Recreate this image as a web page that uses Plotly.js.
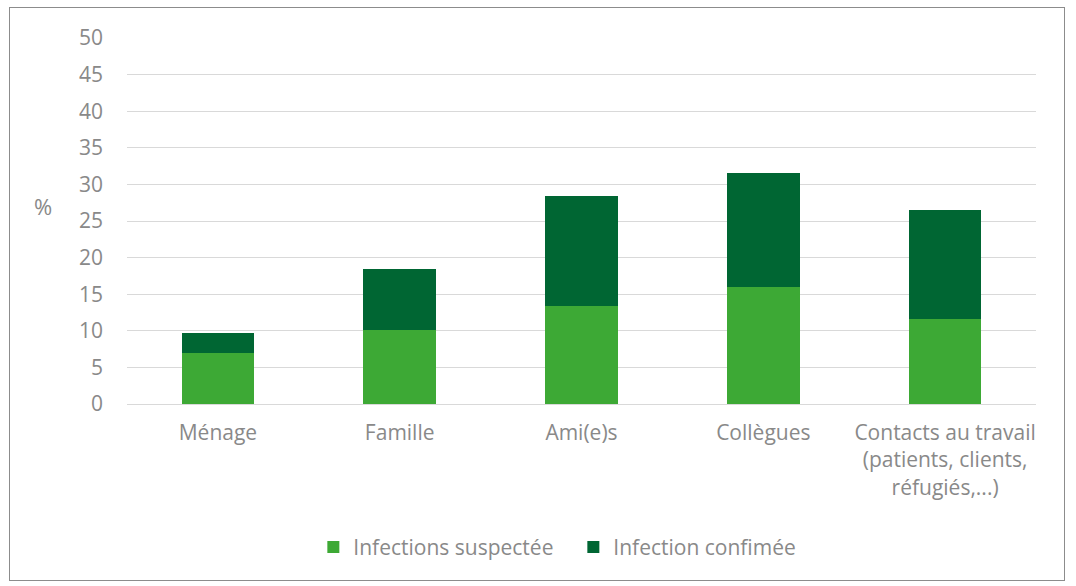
<!DOCTYPE html>
<html>
<head>
<meta charset="utf-8">
<script src="https://cdn.plot.ly/plotly-3.0.1.min.js"></script>
<style>
  html, body { margin: 0; padding: 0; background: #fff; }
  #frame { position: absolute; left: 9px; top: 7px; width: 1056px; height: 574px; border: 1px solid #8c8c8c; box-sizing: border-box; }
  #chart { position: absolute; left: 0; top: 0; width: 1076px; height: 586px; }
</style>
</head>
<body>
<div id="frame"></div>
<div id="chart"></div>
<script>
const categories = ["Ménage", "Famille", "Ami(e)s", "Collègues", "Contacts au travail<br>(patients, clients,<br>réfugiés,...)"];
const suspectedName = "Infections suspectée";
const confirmedName = "Infection confimée";
const suspected = [7.0, 10.1, 13.4, 16.0, 11.6];
const confirmed = [2.7, 8.4, 15.0, 15.6, 14.9];
const yTicks = [0, 5, 10, 15, 20, 25, 30, 35, 40, 45, 50];

const fontFam = "'Open Sans', Lato, 'Liberation Sans', sans-serif";
const grey = "#898989";

const traces = [
  { type: "bar", name: suspectedName, x: categories, y: suspected,
    marker: { color: "#3da935", line: { width: 0 } }, hoverinfo: "y" },
  { type: "bar", name: confirmedName, x: categories, y: confirmed,
    marker: { color: "#006633", line: { width: 0 } }, hoverinfo: "y" }
];

const layout = {
  width: 1076, height: 586,
  paper_bgcolor: "rgba(0,0,0,0)", plot_bgcolor: "rgba(0,0,0,0)",
  margin: { l: 127, r: 40, t: 38, b: 182 },
  barmode: "stack",
  bargap: 0.6,
  font: { family: fontFam, color: grey, size: 21 },
  showlegend: true,
  legend: { orientation: "h", x: 0.205, xanchor: "left", y: -0.392, yanchor: "middle",
            traceorder: "normal", font: { size: 21, color: grey },
            entrywidth: 215, entrywidthmode: "pixels" },
  xaxis: { type: "category", showgrid: false, showline: false, zeroline: false,
           ticks: "", tickfont: { size: 21, color: grey }, ticklabelstandoff: 14,
           fixedrange: true },
  yaxis: { range: [0, 50], tickvals: yTicks, ticktext: yTicks.map(String),
           showgrid: true, gridcolor: "#d9d9d9", gridwidth: 1,
           zeroline: true, zerolinecolor: "#d9d9d9", zerolinewidth: 1,
           showline: false, ticks: "", tickfont: { size: 21, color: grey },
           ticklabelstandoff: 23, fixedrange: true },
  annotations: [
    { text: "%", xref: "paper", yref: "paper", x: -0.092, y: 0.54,
      showarrow: false, font: { size: 22, color: grey }, xanchor: "center", yanchor: "middle" }
  ]
};

Plotly.newPlot("chart", traces, layout, { displayModeBar: false, staticPlot: true });
</script>
</body>
</html>
